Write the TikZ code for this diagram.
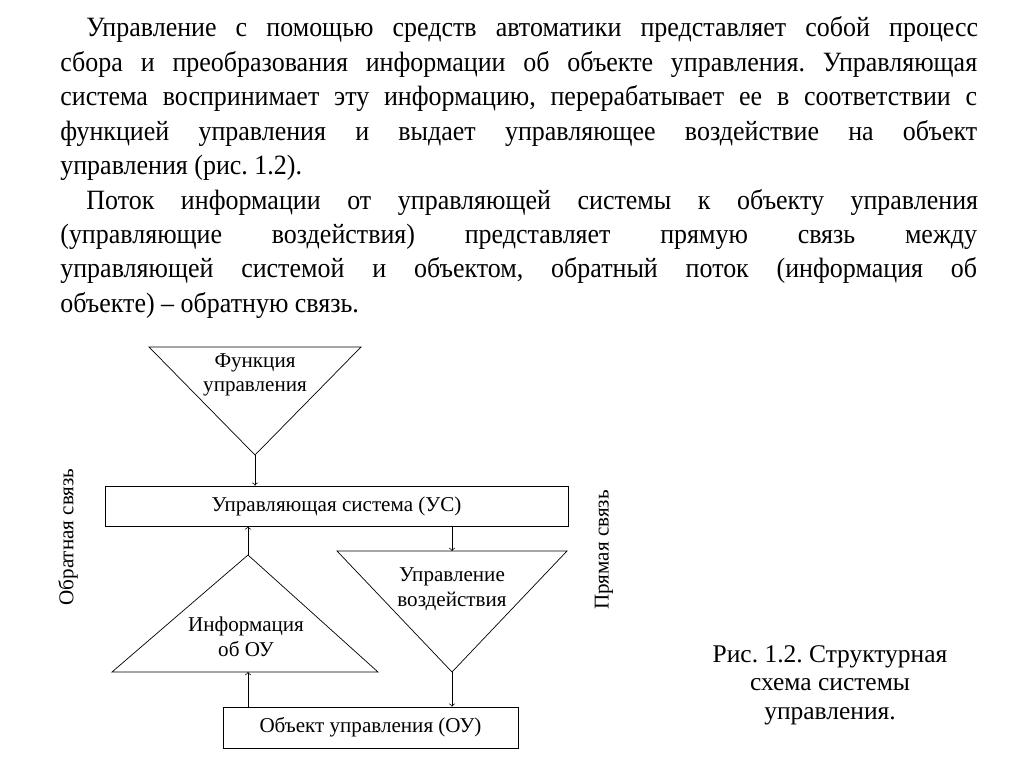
\documentclass[tikz,border=0pt]{standalone}
\usepackage{fontspec}
\setmainfont{Liberation Serif}
\newfontfamily\bodyfont[FakeStretch=0.93]{Liberation Serif}
\usetikzlibrary{positioning}

\tikzset{
  txtline/.style={inner sep=0pt, anchor=base west, font=\bodyfont\fontsize{15.9}{18}\selectfont},
  dgm/.style={inner sep=0pt, align=center, font=\fontsize{12}{14}\selectfont},
  blk/.style={draw, thin, inner sep=0pt, font=\fontsize{12}{14}\selectfont},
  lnk/.style={thin, ->}
}
% full justified line and indented justified line
\newcommand{\fullln}[1]{\makebox[18.34cm][s]{#1}}
\newcommand{\indln}[1]{\makebox[17.84cm][s]{#1}}
\frenchspacing

\begin{document}
\begin{tikzpicture}[x=0.02cm, y=-0.02cm]
\useasboundingbox (0,0) rectangle (1024,767);

% text above the figure
\node[txtline] (t1) at (86,37) {\indln{Управление с помощью средств автоматики представляет собой процесс}};
\node[txtline] (t2) at (60,71.4) {\fullln{сбора и преобразования информации об объекте управления. Управляющая}};
\node[txtline] (t3) at (60,105.8) {\fullln{система воспринимает эту информацию, перерабатывает ее в соответствии с}};
\node[txtline] (t4) at (60,140.2) {\fullln{функцией управления и выдает управляющее воздействие на объект}};
\node[txtline] (t5) at (60,174.6) {управления (рис. 1.2).};
\node[txtline] (t6) at (86,209) {\indln{Поток информации от управляющей системы к объекту управления}};
\node[txtline] (t7) at (60,243.4) {\fullln{(управляющие воздействия) представляет прямую связь между}};
\node[txtline] (t8) at (60,277.8) {\fullln{управляющей системой и объектом, обратный поток (информация об}};
\node[txtline] (t9) at (60,312.2) {объекте) – обратную связь.};

% triangles
\coordinate (fA) at (255,455);
\coordinate (iA) at (248,555);
\coordinate (iB) at (248,672);
\coordinate (vT) at (452,551);
\coordinate (vA) at (452,672);
\draw[thin] (149,347) -- (361,347) -- (fA) -- cycle;
\draw[thin] (iA) -- (378,672) -- (112,672) -- cycle;
\draw[thin] (337,551) -- (567,551) -- (vA) -- cycle;
\node[dgm] (fu) at (255,375) {Функция\\управления};
\node[dgm] (inf) at (246,637) {Информация\\об ОУ};
\node[dgm] (vz) at (452,589) {Управление\\воздействия};

% boxes
\node[blk, minimum width=9.26cm, minimum height=0.8cm] (us) at (336.5,506) {Управляющая система (УС)};
\node[blk, minimum width=5.9cm, minimum height=0.82cm] (ou) at (370.5,727.5) {Объект управления (ОУ)};

% links
\draw[lnk] (fA) -- (fA |- us.north);
\draw[lnk] (iA) -- (iA |- us.south);
\draw[lnk] (vT |- us.south) -- (vT);
\draw[lnk] (iB |- ou.north) -- (iB);
\draw[lnk] (vA) -- (vA |- ou.north);

% side labels
\node[dgm, rotate=90] (obr) at (68,537) {Обратная связь};
\node[dgm, rotate=90] (prm) at (604,550) {Прямая связь};

% caption
\node[inner sep=0pt, align=center, font=\fontsize{14.5}{16.3}\selectfont] (cap) at (830,685) {Рис. 1.2. Структурная\\схема системы\\управления.};
\end{tikzpicture}
\end{document}
